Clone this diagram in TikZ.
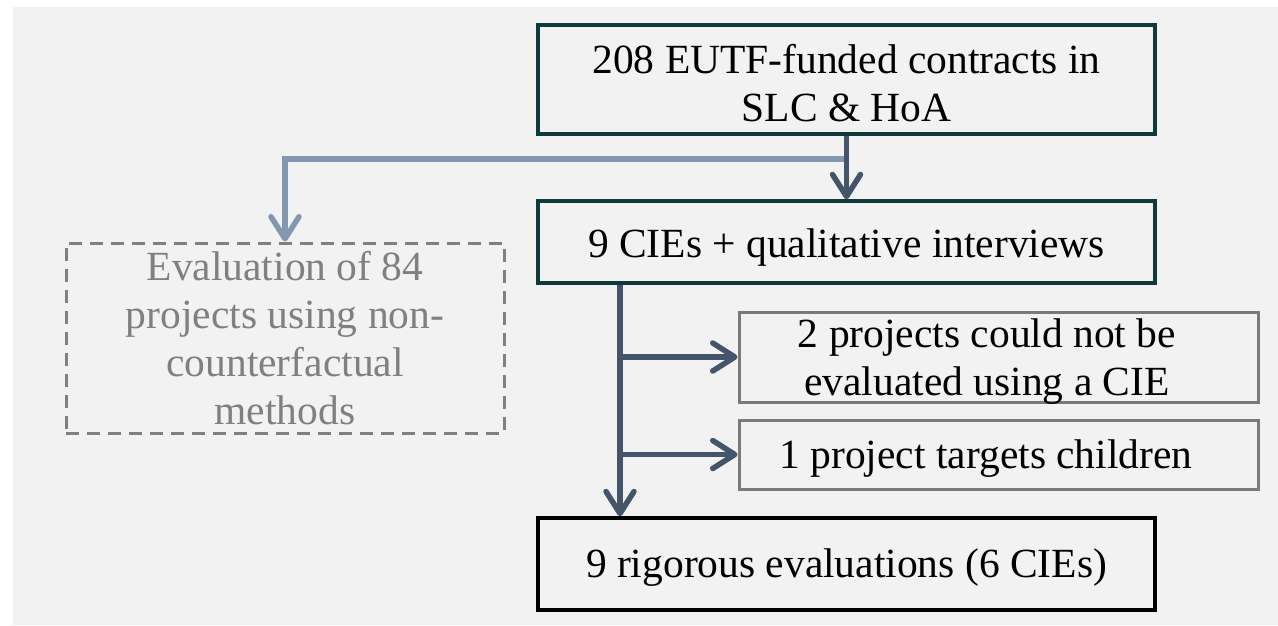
\documentclass[tikz,border=0pt]{standalone}
\usepackage{fontspec}
\setmainfont{Liberation Serif}
\usetikzlibrary{arrows.meta}
\definecolor{bgc}{RGB}{242,242,242}
\definecolor{tealb}{RGB}{14,58,58}
\definecolor{darka}{RGB}{68,84,106}
\definecolor{lighta}{RGB}{132,151,176}
\definecolor{grayb}{RGB}{122,122,122}
\definecolor{grayt}{RGB}{128,128,128}
\begin{document}
\begin{tikzpicture}[x=1pt,y=-1pt,
  every node/.style={inner sep=0pt, font=\fontsize{41.5}{48}\selectfont, align=center},
  tealbox/.style={draw=tealb, line width=3.5pt},
  graybox/.style={draw=grayb, line width=3pt},
  blackbox/.style={draw=black, line width=3.5pt},
  dashbox/.style={draw=grayt, line width=3pt, dash pattern=on 13pt off 8pt, text=grayt},
  darkarrow/.style={draw=darka, line width=5.5pt, -{Straight Barb[length=22pt,width=28pt,line cap=round,line join=round]}},
  lightarrow/.style={draw=lighta, line width=5.5pt, -{Straight Barb[length=22pt,width=28pt,line cap=round,line join=round]}},
  darkline/.style={draw=darka, line width=5.5pt}
]
\useasboundingbox (0,0) rectangle (1278,625);
\fill[white] (0,0) rectangle (1278,625);
\fill[bgc] (13,7) rectangle (1278,625);

\node[tealbox, minimum width=617pt, minimum height=109pt] (b1) at (846.5,79.5) {};
\node (t1) at (846.5,83) {208 EUTF-funded contracts in\\SLC \& HoA};
\node[tealbox, minimum width=617pt, minimum height=82pt, text height=30pt, text depth=0pt] (b2) at (846.5,242)
  {9 CIEs + qualitative interviews};
\node[dashbox, minimum width=438pt, minimum height=190pt] (d) at (285,338)
  {Evaluation of 84\\projects using non-\\counterfactual\\methods};
\node[graybox, minimum width=519pt, minimum height=90pt] (b3) at (998.5,357) {};
\node (t3) at (987,362) {2 projects could not be\\evaluated using a CIE};
\node[graybox, minimum width=519pt, minimum height=69pt] (b5) at (998.5,454.5) {};
\node[text height=27pt, text depth=0pt] (t5) at (986,454.5) {1 project targets children};
\node[blackbox, minimum width=617pt, minimum height=92pt, text height=26pt, text depth=0pt] (b4) at (846.5,564)
  {9 rigorous evaluations (6 CIEs)};

\coordinate (j1) at (846.5,159);
\coordinate (sp) at (620,0);

\draw[lightarrow] (j1) -| (d.north);
\draw[darkarrow] (b1.south) -- (b2.north);
\draw[darkarrow] (b2.south -| sp) -- (b4.north -| sp);
\draw[darkarrow] (sp |- b3.west) -- (b3.west);
\draw[darkarrow] (sp |- b5.west) -- (b5.west);
\end{tikzpicture}
\end{document}
